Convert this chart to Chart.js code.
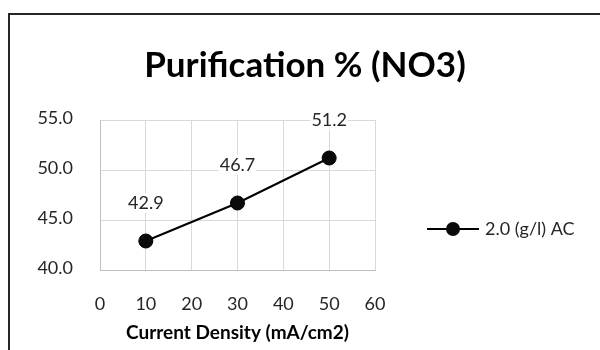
<!DOCTYPE html>
<html>
<head>
<meta charset="utf-8">
<title>Purification % (NO3)</title>
<script src="https://cdn.jsdelivr.net/npm/chart.js@4.4.1/dist/chart.umd.min.js"></script>
<style>
    html, body { margin: 0; padding: 0; background: #fff; }
    #wrap { position: relative; width: 600px; height: 350px; }
</style>
</head>
<body>
<div id="wrap"><canvas id="purificacion" width="600" height="350"></canvas></div>
<script>
// current density (mA/cm2) vs NO3 purification (%)
var densidad = [10, 30, 50];
var purificacion = [42.9, 46.7, 51.2];
var serieNombre = "2.0 (g/l) AC";
var xTicks = [0, 10, 20, 30, 40, 50, 60];
var yTicks = [40, 45, 50, 55];

var fuente = "Lato, 'Open Sans', sans-serif";
var colorTexto = "#262626";

// outer frame around the chart
var marco = {
    id: "marco",
    beforeDraw: function (chart) {
        var ctx = chart.ctx;
        ctx.save();
        ctx.strokeStyle = "#262626";
        ctx.lineWidth = 2;
        ctx.strokeRect(9, 14, 700, 500);
        ctx.restore();
    }
};

// value labels above each point
var etiquetas = {
    id: "etiquetas",
    afterDatasetsDraw: function (chart) {
        var ctx = chart.ctx;
        var meta = chart.getDatasetMeta(0);
        ctx.save();
        ctx.font = "18px " + fuente;
        ctx.textAlign = "center";
        ctx.textBaseline = "middle";
        meta.data.forEach(function (pt, i) {
            var txt = purificacion[i].toFixed(1);
            var w = ctx.measureText(txt).width;
            var y = pt.y - 38;
            ctx.fillStyle = "#fff";
            ctx.fillRect(pt.x - w / 2 - 1, y - 10, w + 2, 20);
            ctx.fillStyle = colorTexto;
            ctx.fillText(txt, pt.x, y);
        });
        ctx.restore();
    }
};

// legend on the right side
var leyenda = {
    id: "leyenda",
    afterDraw: function (chart) {
        var ctx = chart.ctx;
        var ds = chart.data.datasets[0];
        var y = 229;
        ctx.save();
        ctx.strokeStyle = ds.borderColor;
        ctx.lineWidth = ds.borderWidth;
        ctx.beginPath();
        ctx.moveTo(427, y);
        ctx.lineTo(479, y);
        ctx.stroke();
        ctx.fillStyle = ds.pointBackgroundColor;
        ctx.beginPath();
        ctx.arc(453, y, ds.pointRadius, 0, Math.PI * 2);
        ctx.fill();
        ctx.font = "18px " + fuente;
        ctx.fillStyle = colorTexto;
        ctx.textBaseline = "middle";
        ctx.fillText(ds.label, 485, y);
        ctx.restore();
    }
};

var ctx = document.getElementById("purificacion").getContext("2d");
var chart = new Chart(ctx, {
    type: "line",
    data: {
        datasets: [
            {
                label: serieNombre,
                data: densidad.map(function (x, i) { return { x: x, y: purificacion[i] }; }),
                borderColor: "#000",
                borderWidth: 2,
                pointRadius: 7,
                pointHoverRadius: 7,
                pointBackgroundColor: "#0a0a0a",
                pointBorderColor: "#000",
                pointBorderWidth: 1,
                tension: 0
            }
        ]
    },
    options: {
        responsive: false,
        animation: false,
        layout: { padding: { left: 10 } },
        plugins: {
            legend: { display: false },
            tooltip: { enabled: false },
            title: {
                display: true,
                text: "Purification % (NO3)",
                color: "#000",
                font: { family: fuente, size: 35, weight: "bold", lineHeight: 1.2 },
                padding: { top: 45, bottom: 33 }
            }
        },
        scales: {
            x: {
                type: "linear",
                min: 0,
                max: 60,
                afterBuildTicks: function (scale) {
                    scale.ticks = xTicks.map(function (v) { return { value: v }; });
                },
                afterFit: function (scale) { scale.height = 80; },
                grid: { color: "#d9d9d9", lineWidth: 1, drawTicks: false },
                border: { color: "#bfbfbf", width: 1 },
                ticks: { color: colorTexto, padding: 23, font: { family: fuente, size: 18 } },
                title: {
                    display: true,
                    text: "Current Density (mA/cm2)",
                    color: "#000",
                    font: { family: fuente, size: 19, weight: "bold" },
                    padding: { top: 4, bottom: 6 }
                }
            },
            y: {
                min: 40,
                max: 55,
                afterBuildTicks: function (scale) {
                    scale.ticks = yTicks.map(function (v) { return { value: v }; });
                },
                afterFit: function (scale) { scale.width = 90; },
                grid: { color: "#d9d9d9", lineWidth: 1, drawTicks: false },
                border: { color: "#bfbfbf", width: 1 },
                ticks: {
                    color: colorTexto,
                    padding: 27,
                    labelOffset: -2,
                    font: { family: fuente, size: 18 },
                    callback: function (v) { return Number(v).toFixed(1); }
                }
            },
            // empty right-hand box that leaves room for the legend
            lado: {
                type: "linear",
                position: "right",
                display: true,
                grid: { display: false, drawTicks: false },
                border: { display: false },
                ticks: { display: false },
                afterFit: function (scale) { scale.width = 225; }
            }
        }
    },
    plugins: [marco, etiquetas, leyenda]
});
</script>
</body>
</html>
